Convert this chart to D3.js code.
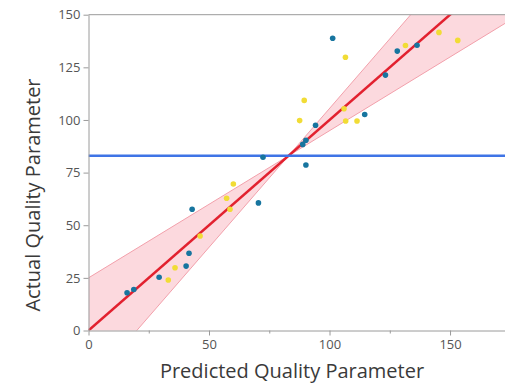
<!DOCTYPE html>
<html>
<head>
<meta charset="utf-8">
<script src="https://cdn.jsdelivr.net/npm/d3@7"></script>
<style>
  body { margin: 0; background: #fff; }
  svg { display: block; font-family: "Open Sans", sans-serif; }
  .axis path, .axis line { stroke: #9a9a9a; }
  .axis text { fill: #555; font-size: 13px; font-family: "Open Sans", sans-serif; }
  .label { fill: #3a3a3a; font-size: 20px; }
</style>
</head>
<body>
<svg width="505" height="388"></svg>
<script>
// blue group (predicted, actual)
const blueX = [16.0, 18.8, 29.3, 40.5, 41.7, 43.0, 70.5, 72.4, 90.2, 88.9, 90.2, 94.2, 114.6, 101.3, 123.2, 128.1, 136.3];
const blueY = [17.9, 19.5, 25.3, 30.6, 36.7, 57.6, 60.6, 82.3, 78.6, 88.4, 90.4, 97.5, 102.6, 138.8, 121.3, 132.7, 135.5];
// yellow group
const yellowX = [33.1, 35.9, 46.3, 58.7, 57.3, 60.1, 87.6, 89.5, 106.0, 106.7, 111.4, 106.6, 131.5, 145.4, 153.2];
const yellowY = [24.0, 29.8, 44.9, 57.6, 62.8, 69.6, 99.7, 109.3, 105.3, 99.5, 99.5, 129.8, 135.4, 141.6, 137.8];

// fit line and band edges
const fitX = [0, 173];
const fitY = [0, 173];
const bandX = [0, 83, 173];
const bandLo = [-26.4, 83, 146];
const bandHi = [25, 83, 202];
const refLevel = 83;

const xTicks = [0, 50, 100, 150];
const xMinor = [25, 75, 125];
const yTicks = [0, 25, 50, 75, 100, 125, 150];

const svg = d3.select("svg");
const mLeft = 88.5, mRight = 505, mTop = 14.7, mBottom = 330.5;

const x = d3.scaleLinear().domain([0, 172.8]).range([mLeft, mRight]);
const y = d3.scaleLinear().domain([0, 150]).range([mBottom, mTop]);

svg.append("defs").append("clipPath").attr("id", "plot")
  .append("rect")
    .attr("x", mLeft).attr("y", mTop)
    .attr("width", mRight - mLeft).attr("height", mBottom - mTop);

const plot = svg.append("g").attr("clip-path", "url(#plot)");

const band = bandX.map((v, i) => ({x: v, lo: bandLo[i], hi: bandHi[i]}));

plot.append("path")
  .datum(band)
  .attr("fill", "#fcd9de")
  .attr("d", d3.area().x(d => x(d.x)).y0(d => y(d.lo)).y1(d => y(d.hi)));

plot.append("path")
  .datum(band)
  .attr("fill", "none")
  .attr("stroke", "#f2a0ab")
  .attr("stroke-width", 1)
  .attr("d", d3.line().x(d => x(d.x)).y(d => y(d.lo)));

plot.append("path")
  .datum(band)
  .attr("fill", "none")
  .attr("stroke", "#f2a0ab")
  .attr("stroke-width", 1)
  .attr("d", d3.line().x(d => x(d.x)).y(d => y(d.hi)));

plot.append("path")
  .datum(fitX.map((v, i) => [v, fitY[i]]))
  .attr("fill", "none")
  .attr("stroke", "#e2212f")
  .attr("stroke-width", 2.5)
  .attr("d", d3.line().x(d => x(d[0])).y(d => y(d[1])));

plot.append("line")
  .attr("x1", mLeft).attr("x2", mRight)
  .attr("y1", y(refLevel)).attr("y2", y(refLevel))
  .attr("stroke", "#3f74e6")
  .attr("stroke-width", 2.5);

plot.selectAll(".blue")
  .data(blueX.map((v, i) => [v, blueY[i]]))
  .join("circle")
    .attr("class", "blue")
    .attr("cx", d => x(d[0]))
    .attr("cy", d => y(d[1]))
    .attr("r", 2.8)
    .attr("fill", "#17759f");

plot.selectAll(".yellow")
  .data(yellowX.map((v, i) => [v, yellowY[i]]))
  .join("circle")
    .attr("class", "yellow")
    .attr("cx", d => x(d[0]))
    .attr("cy", d => y(d[1]))
    .attr("r", 2.8)
    .attr("fill", "#f1dc35");

// top frame line
svg.append("line")
  .attr("x1", mLeft).attr("x2", mRight)
  .attr("y1", mTop).attr("y2", mTop)
  .attr("stroke", "#9a9a9a");

svg.append("g")
  .attr("class", "axis")
  .attr("transform", "translate(0," + mBottom + ")")
  .call(d3.axisBottom(x).tickValues(xMinor).tickSize(3).tickFormat(""))
  .call(g => g.select(".domain").remove());

svg.append("g")
  .attr("class", "axis")
  .attr("transform", "translate(0," + mBottom + ")")
  .call(d3.axisBottom(x).tickValues(xTicks).tickSize(5).tickSizeOuter(0).tickPadding(4));

svg.append("g")
  .attr("class", "axis")
  .attr("transform", "translate(" + mLeft + ",0)")
  .call(d3.axisLeft(y).tickValues(yTicks).tickSize(5).tickSizeOuter(0).tickPadding(3));

svg.append("text")
  .attr("class", "label")
  .attr("x", 292)
  .attr("y", 378)
  .attr("text-anchor", "middle")
  .text("Predicted Quality Parameter");

svg.append("text")
  .attr("class", "label")
  .attr("transform", "translate(40,195) rotate(-90)")
  .attr("text-anchor", "middle")
  .text("Actual Quality Parameter");
</script>
</body>
</html>
